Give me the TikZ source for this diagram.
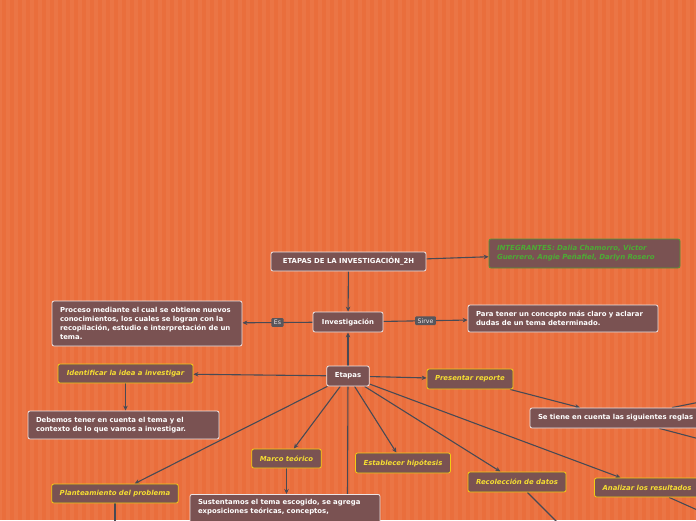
\documentclass[tikz,border=0pt]{standalone}
\usepackage{fontspec}
\setsansfont{DejaVu Sans}
\usetikzlibrary{arrows.meta}
\definecolor{bgorange}{RGB}{234,110,60}
\definecolor{boxfill}{RGB}{122,82,82}
\definecolor{boxline}{RGB}{238,228,228}
\definecolor{yellowline}{RGB}{242,204,20}
\definecolor{yellowtext}{RGB}{246,222,50}
\definecolor{greenline}{RGB}{84,150,52}
\definecolor{greentext}{RGB}{76,172,52}
\definecolor{edgegray}{RGB}{72,74,84}
\definecolor{tagfill}{RGB}{88,86,92}
\pgfdeclarelayer{backdrop}
\pgfdeclarelayer{edges}
\pgfsetlayers{backdrop,edges,main}
\begin{document}
\begin{tikzpicture}[x=1pt, y=-1pt, >={Stealth[length=5pt,width=4.5pt]},
    every node/.style={font=\sffamily\bfseries\fontsize{6.9}{9}\selectfont, text=white},
    topic/.style={rectangle, rounded corners=2pt, draw=boxline, fill=boxfill, line width=0.8pt, inner xsep=8pt, inner ysep=0pt},
    stage/.style={topic, draw=yellowline, text=yellowtext, font=\sffamily\bfseries\itshape\fontsize{6.9}{9}\selectfont},
    tag/.style={rectangle, rounded corners=1pt, fill=tagfill, text=boxline, inner xsep=2.5pt, inner ysep=2pt, font=\sffamily\fontsize{6.2}{7}\selectfont},
    edge/.style={draw=edgegray, line width=1.1pt}]
    \useasboundingbox (0,0) rectangle (696,520);
    \begin{pgfonlayer}{backdrop}
        \fill[bgorange] (0,0) rectangle (696,520);
        \draw[white, opacity=0.05, line width=4pt, step=8] (0,0) grid (696,520);
    \end{pgfonlayer}
    % main topics
    \node[topic, minimum width=155, minimum height=19] (title) at (348.5,261.5) {ETAPAS DE LA INVESTIGACIÓN\_2H};
    \node[topic, draw=greenline, text=greentext, font=\sffamily\bfseries\itshape\fontsize{7}{9}\selectfont, text width=175, align=left, minimum height=29] (team) at (584.5,253.5) {INTEGRANTES: Dalia Chamorro, Victor\\Guerrero, Angie Peñafiel, Darlyn Rosero};
    \node[topic, minimum width=70, minimum height=20] (inv) at (348,322) {Investigación};
    \node[topic, text width=174, align=left, minimum height=45] (proc) at (147,323.5) {Proceso mediante el cual se obtiene nuevos\\conocimientos, los cuales se logran con la\\recopilación, estudio e interpretación de un\\tema.};
    \node[topic, text width=174, align=left, minimum height=27] (para) at (563,318.5) {Para tener un concepto más claro y aclarar\\dudas de un tema determinado.};
    \node[topic, minimum width=42, minimum height=20] (etapas) at (348,376) {Etapas};
    % stages
    \node[stage, minimum width=135, minimum height=19] (ident) at (125.5,373.5) {Identificar la idea a investigar};
    \node[topic, text width=175, align=left, minimum height=28] (debemos) at (123.5,425) {Debemos tener en cuenta el tema y el\\contexto de lo que vamos a investigar.};
    \node[stage, minimum width=86, minimum height=20] (pres) at (470,379) {Presentar reporte};
    \node[topic, text width=164, align=left, minimum height=20] (setiene) at (620,418) {Se tiene en cuenta las siguientes reglas};
    \node[stage, minimum width=69, minimum height=19] (marco) at (286.5,458.5) {Marco teórico};
    \node[topic, text width=174, align=left, inner ysep=5pt, anchor=north] (sust) at (285,494) {Sustentamos el tema escogido, se agrega\\exposiciones teóricas, conceptos,\\~};
    \node[stage, minimum width=94, minimum height=20] (hip) at (403,463) {Establecer hipótesis};
    \node[stage, minimum width=126, minimum height=19] (plant) at (115,493.5) {Planteamiento del problema};
    \node[stage, minimum width=98, minimum height=20] (recol) at (517,482) {Recolección de datos};
    \node[stage, minimum width=104, minimum height=19] (anal) at (647,487.5) {Analizar los resultados};
    % ends outside the frame
    \coordinate (offA) at (347,620);
    \coordinate (offB) at (115,620);
    \coordinate (offC) at (620,585);
    \coordinate (offD) at (760,538);
    \coordinate (offE) at (760,390);
    \coordinate (offF) at (760,455);
    \begin{pgfonlayer}{edges}
        \draw[edge, ->] (title) -- (team);
        \draw[edge, ->] (title) -- (inv);
        \draw[edge, ->] (etapas) -- (inv);
        \draw[edge, ->] (inv) -- node[tag] (es) {Es} (proc);
        \draw[edge, ->] (inv) -- node[tag] (sirve) {Sirve} (para);
        \draw[edge, ->] (etapas) -- (ident);
        \draw[edge, ->] (ident) -- (ident.south |- debemos.north);
        \draw[edge, ->] (etapas) -- (pres);
        \draw[edge, ->] (pres) -- (setiene);
        \draw[edge, ->] (etapas) -- (marco);
        \draw[edge, ->] (marco) -- (marco.south |- sust.north);
        \draw[edge, ->] (etapas) -- (hip);
        \draw[edge, ->] (etapas) -- (plant);
        \draw[edge, ->] (etapas) -- (recol);
        \draw[edge, ->] (etapas) -- (anal);
        \draw[edge] (etapas) -- (offA);
        \draw[edge] (plant) -- (offB);
        \draw[edge] (recol) -- (offC);
        \draw[edge] (anal) -- (offD);
        \draw[edge] (setiene) -- (offE);
        \draw[edge] (setiene) -- (offF);
    \end{pgfonlayer}
\end{tikzpicture}
\end{document}
